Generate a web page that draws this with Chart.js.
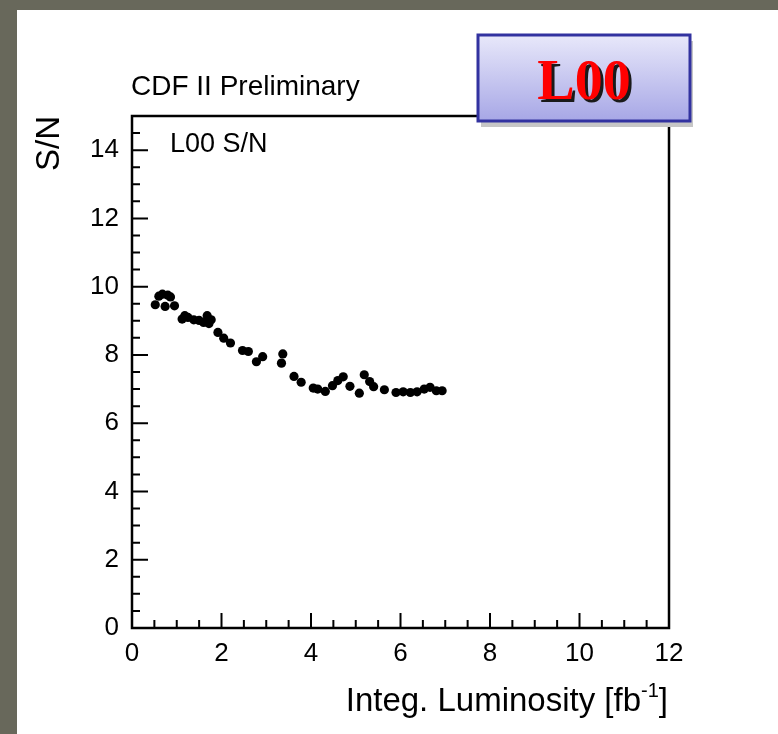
<!DOCTYPE html>
<html><head><meta charset="utf-8">
<script src="https://cdn.jsdelivr.net/npm/chart.js@4.4.1/dist/chart.umd.min.js"></script>
<style>
html,body{margin:0;padding:0;width:778px;height:734px;overflow:hidden;background:#68685b;}
#panel{position:absolute;left:17px;top:10px;width:761px;height:724px;background:#fff;}
#c{position:absolute;left:0;top:0;}
</style></head><body>
<div id="panel"></div>
<canvas id="c" width="778" height="734"></canvas>
<script>
// ---- data ----
const lumi = [0.52,0.60,0.68,0.74,0.80,0.86,0.95,1.12,1.18,1.25,1.38,1.50,1.60,1.68,1.72,1.77,1.92,2.05,2.20,2.47,2.60,2.78,2.92,3.34,3.37,3.62,3.78,4.05,4.15,4.32,4.48,4.60,4.72,4.87,5.08,5.19,5.31,5.40,5.64,5.90,6.06,6.22,6.37,6.53,6.66,6.80,6.93];
const snr  = [9.47,9.72,9.78,9.42,9.75,9.70,9.44,9.05,9.15,9.10,9.03,9.01,8.95,9.15,8.92,9.03,8.66,8.49,8.35,8.13,8.10,7.80,7.95,7.76,8.03,7.37,7.20,7.03,7.00,6.93,7.10,7.25,7.36,7.08,6.88,7.42,7.22,7.07,6.98,6.90,6.92,6.90,6.92,7.00,7.05,6.95,6.95];
const xTicks = [0,2,4,6,8,10,12];
const yTicks = [0,2,4,6,8,10,12,14];
const plotTitle = 'CDF II Preliminary';
const legendText = 'L00 S/N';
const badgeText = 'L00';
const yTitle = 'S/N';
const xTitleMain = 'Integ. Luminosity [fb';
const xTitleSup = '-1';
const xTitleEnd = ']';

const FONT = '"Liberation Sans", Arial, Helvetica, sans-serif';

const decor = {
  id: 'decor',
  beforeDatasetsDraw(chart) {
    const {ctx, chartArea: a, scales: {x, y}} = chart;
    ctx.save();
    ctx.strokeStyle = '#000';
    ctx.lineWidth = 2;
    ctx.beginPath();
    for (let v = y.min; v < y.max; v += 0.5) {
      const p = y.getPixelForValue(v);
      const len = (v % 2 === 0) ? 16 : 8;
      ctx.moveTo(a.left, p); ctx.lineTo(a.left + len, p);
    }
    for (let v = x.min + 0.5; v < x.max; v += 0.5) {
      const p = x.getPixelForValue(v);
      const len = (v % 2 === 0) ? 15 : 8;
      ctx.moveTo(p, a.bottom); ctx.lineTo(p, a.bottom - len);
    }
    ctx.stroke();
    ctx.restore();
  },
  afterDraw(chart) {
    const {ctx, chartArea: a} = chart;
    ctx.save();
    // frame
    ctx.strokeStyle = '#000';
    ctx.lineWidth = 2.5;
    ctx.strokeRect(a.left, a.top, a.right - a.left, a.bottom - a.top);
    // legend text inside frame
    ctx.fillStyle = '#000';
    ctx.font = '27px ' + FONT;
    ctx.textAlign = 'left';
    ctx.textBaseline = 'middle';
    ctx.fillText(legendText, 170, 145);
    // top title
    ctx.font = '28px ' + FONT;
    ctx.textBaseline = 'alphabetic';
    ctx.fillText(plotTitle, 131, 95);
    // x-axis title with superscript
    ctx.font = '33px ' + FONT;
    const wEnd = ctx.measureText(xTitleEnd).width;
    ctx.font = '20px ' + FONT;
    const wSup = ctx.measureText(xTitleSup).width;
    ctx.font = '33px ' + FONT;
    const wMain = ctx.measureText(xTitleMain).width;
    const right = a.right - 1;
    const x0 = right - wEnd - wSup - wMain;
    ctx.fillText(xTitleMain, x0, 711);
    ctx.fillText(xTitleEnd, right - wEnd, 711);
    ctx.font = '20px ' + FONT;
    ctx.fillText(xTitleSup, x0 + wMain, 697);
    // badge
    const bx = 478, by = 35, bw = 212, bh = 86;
    ctx.fillStyle = '#c6c6c6';
    ctx.fillRect(bx + 3, by + 6, bw, bh);
    const g = ctx.createLinearGradient(0, by, 0, by + bh);
    g.addColorStop(0, '#e8e8fa');
    g.addColorStop(1, '#a7a7e6');
    ctx.fillStyle = g;
    ctx.fillRect(bx, by, bw, bh);
    ctx.strokeStyle = '#3232a0';
    ctx.lineWidth = 3;
    ctx.strokeRect(bx, by, bw, bh);
    ctx.font = 'bold 56px "Liberation Serif", "Times New Roman", serif';
    ctx.textAlign = 'center';
    ctx.textBaseline = 'alphabetic';
    ctx.fillStyle = '#1a1a1a';
    ctx.fillText(badgeText, bx + bw / 2 + 3, 99 + 3);
    ctx.fillStyle = '#ff0000';
    ctx.fillText(badgeText, bx + bw / 2, 99);
    ctx.restore();
  }
};

new Chart(document.getElementById('c'), {
  type: 'scatter',
  data: {
    datasets: [{
      data: lumi.map((v, i) => ({x: v, y: snr[i]})),
      pointRadius: 4.6,
      pointHoverRadius: 4.6,
      pointStyle: 'circle',
      backgroundColor: '#000',
      borderColor: '#000',
      borderWidth: 0
    }]
  },
  options: {
    responsive: false,
    animation: false,
    devicePixelRatio: 1,
    layout: {padding: {left: 0, top: 116, right: 109, bottom: 46}},
    plugins: {legend: {display: false}, tooltip: {enabled: false}},
    scales: {
      x: {
        type: 'linear', min: 0, max: 12,
        afterBuildTicks: s => { s.ticks = xTicks.map(v => ({value: v})); },
        afterFit: s => { s.height = 60; },
        grid: {display: false, drawTicks: false},
        border: {display: false},
        ticks: {color: '#000', font: {family: FONT, size: 26}, padding: 10, maxRotation: 0, autoSkip: false}
      },
      y: {
        type: 'linear', min: 0, max: 15,
        afterBuildTicks: s => { s.ticks = yTicks.map(v => ({value: v})); },
        afterFit: s => { s.width = 132; },
        grid: {display: false, drawTicks: false},
        border: {display: false},
        ticks: {color: '#000', font: {family: FONT, size: 26}, padding: 13, autoSkip: false},
        title: {display: true, text: yTitle, align: 'end', color: '#000', font: {family: FONT, size: 33}, padding: {top: 30, bottom: 0}}
      }
    }
  },
  plugins: [decor]
});
</script>
</body></html>
